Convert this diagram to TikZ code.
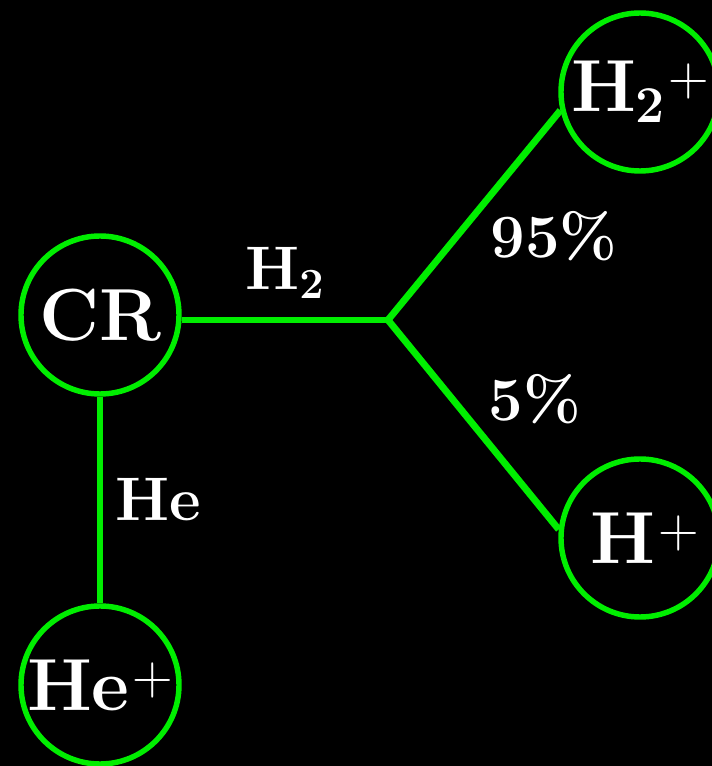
\RequirePackage{fix-cm}
\documentclass[tikz,border=0pt]{standalone}
\usepackage{tikz}
\usetikzlibrary{calc}
\definecolor{ionline}{HTML}{00EE00}
\newcommand{\chg}{\kern1.5pt\raisebox{9pt}{\fontsize{32}{36}\selectfont$+$}}

\begin{document}
\begin{tikzpicture}[
    ion/.style={circle, draw=ionline, line width=3.1pt, fill=black, text=white,
        minimum size=3.16cm, inner sep=0pt, font=\fontsize{42}{46}\selectfont\bfseries},
    chan/.style={draw=ionline, line width=3.9pt},
    frac/.style={text=white, inner sep=0pt, font=\fontsize{35}{39}\selectfont\bfseries}]
    \useasboundingbox (0,0) rectangle (14.24,15.32);
    \fill[black] (0,0) rectangle (14.24,15.32);

    \coordinate (J) at (7.76,8.92);

    \node[ion] (CR) at (2.0,9.02) {CR};
    \node[ion] (Hep) at (2.0,1.62) {He\chg};
    \node[ion] (H2p) at (12.8,13.48) {H$_{\mathbf{2}}$\chg};
    \node[ion] (Hp) at (12.8,4.56) {\hspace{0.2cm}H\chg};

    \draw[chan] (CR.east |- J) -- (J) node[frac, midway, above=0.36cm] (lH2) {H$_{\mathbf{2}}$};
    \draw[chan] (J) -- (H2p.193) node[frac, pos=0.4, right=0.6cm] (l95) {95\%};
    \draw[chan] (J) -- (Hp.174) node[frac, pos=0.4, right=0.58cm, yshift=0.1cm] (l5) {5\%};
    \draw[chan] (CR) -- (Hep) node[frac, midway, right=0.24cm] (lHe) {He};
\end{tikzpicture}
\end{document}
